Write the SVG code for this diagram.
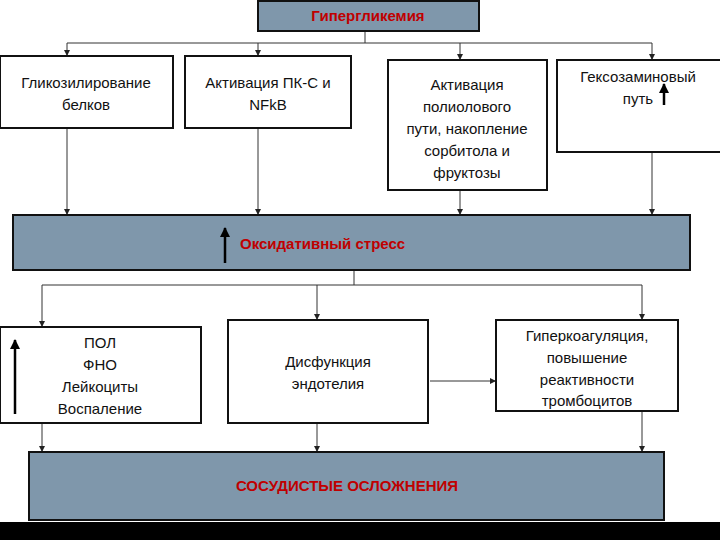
<svg xmlns="http://www.w3.org/2000/svg" width="720" height="540" viewBox="0 0 720 540">
<defs>
<marker id="a" viewBox="0 0 10 10" refX="10" refY="5" markerWidth="6" markerHeight="6" orient="auto"><path d="M0,0L10,5L0,10z" fill="#222"/></marker>
<marker id="u" viewBox="0 0 10 10" refX="9" refY="5" markerWidth="4" markerHeight="4" orient="auto"><path d="M0,0L10,5L0,10z" fill="#000"/></marker>
</defs>
<style>
.b{fill:#fff;stroke:#111;stroke-width:2}
.g{fill:#7f97ab;stroke:#111;stroke-width:2}
.t{font-family:"Liberation Sans",Arial,sans-serif;font-size:15px;fill:#111;text-anchor:middle}
.r{font-family:"Liberation Sans",Arial,sans-serif;font-size:15px;font-weight:bold;fill:#c00000}
.c line,.c path{stroke:#333;stroke-width:1;fill:none}
.up{stroke:#000;stroke-width:2.5}
</style>
<rect width="720" height="540" fill="#fff"/>
<g class="c">
<line x1="365" y1="31" x2="365" y2="43"/>
<line x1="67" y1="43" x2="652" y2="43"/>
<line x1="67" y1="43" x2="67" y2="56" marker-end="url(#a)"/>
<line x1="258" y1="43" x2="258" y2="56" marker-end="url(#a)"/>
<line x1="460" y1="43" x2="460" y2="60" marker-end="url(#a)"/>
<line x1="652" y1="43" x2="652" y2="60" marker-end="url(#a)"/>
<line x1="67" y1="128" x2="67" y2="215" marker-end="url(#a)"/>
<line x1="258" y1="128" x2="258" y2="215" marker-end="url(#a)"/>
<line x1="460" y1="190" x2="460" y2="215" marker-end="url(#a)"/>
<line x1="652" y1="152" x2="652" y2="215" marker-end="url(#a)"/>
<line x1="354" y1="270" x2="354" y2="285"/>
<line x1="42" y1="285" x2="642" y2="285"/>
<line x1="42" y1="285" x2="42" y2="327" marker-end="url(#a)"/>
<line x1="317" y1="285" x2="317" y2="320" marker-end="url(#a)"/>
<line x1="642" y1="285" x2="642" y2="320" marker-end="url(#a)"/>
<line x1="430" y1="381" x2="496" y2="381" marker-end="url(#a)"/>
<line x1="42" y1="423" x2="42" y2="452" marker-end="url(#a)"/>
<line x1="317" y1="423" x2="317" y2="452" marker-end="url(#a)"/>
<line x1="642" y1="411" x2="642" y2="452" marker-end="url(#a)"/>
</g>
<g id="hyper"><rect class="g" x="258" y="1" width="221" height="30"/><text class="r" x="368" y="21" text-anchor="middle">Гипергликемия</text></g>
<g id="glyc"><rect class="b" x="0" y="56" width="173" height="72"/><text class="t" x="86" y="88">Гликозилирование</text><text class="t" x="86" y="110">белков</text></g>
<g id="pkc"><rect class="b" x="185" y="56" width="166" height="72"/><text class="t" x="268" y="88">Активация ПК-С и</text><text class="t" x="268" y="110">NFkB</text></g>
<g id="polyol"><rect class="b" x="388" y="60" width="159" height="130"/><text class="t" x="467" y="90">Активация</text><text class="t" x="467" y="112">полиолового</text><text class="t" x="467" y="134">пути, накопление</text><text class="t" x="467" y="156">сорбитола и</text><text class="t" x="467" y="178">фруктозы</text></g>
<g id="hex"><rect class="b" x="557" y="60" width="170" height="92"/><text class="t" x="638" y="82">Гексозаминовый</text><text class="t" x="638" y="104">путь</text><line class="up" x1="664" y1="105" x2="664" y2="84" marker-end="url(#u)"/></g>
<g id="ox"><rect class="g" x="13" y="215" width="677" height="55"/><line class="up" x1="225" y1="263" x2="225" y2="228" marker-end="url(#u)"/><text class="r" x="240" y="249">Оксидативный стресс</text></g>
<g id="pol"><rect class="b" x="0" y="327" width="201" height="96"/><text class="t" x="100" y="348">ПОЛ</text><text class="t" x="100" y="370">ФНО</text><text class="t" x="100" y="392">Лейкоциты</text><text class="t" x="100" y="414">Воспаление</text><line class="up" x1="15" y1="414" x2="15" y2="340" marker-end="url(#u)"/></g>
<g id="dys"><rect class="b" x="228" y="320" width="200" height="103"/><text class="t" x="328" y="367">Дисфункция</text><text class="t" x="328" y="389">эндотелия</text></g>
<g id="hyperco"><rect class="b" x="496" y="320" width="182" height="91"/><text class="t" x="587" y="341">Гиперкоагуляция,</text><text class="t" x="587" y="363">повышение</text><text class="t" x="587" y="385">реактивности</text><text class="t" x="587" y="406">тромбоцитов</text></g>
<g id="vasc"><rect class="g" x="29" y="452" width="635" height="68"/><text class="r" x="347" y="491" text-anchor="middle">СОСУДИСТЫЕ ОСЛОЖНЕНИЯ</text></g>
<rect x="0" y="522" width="720" height="18" fill="#000"/>
</svg>
